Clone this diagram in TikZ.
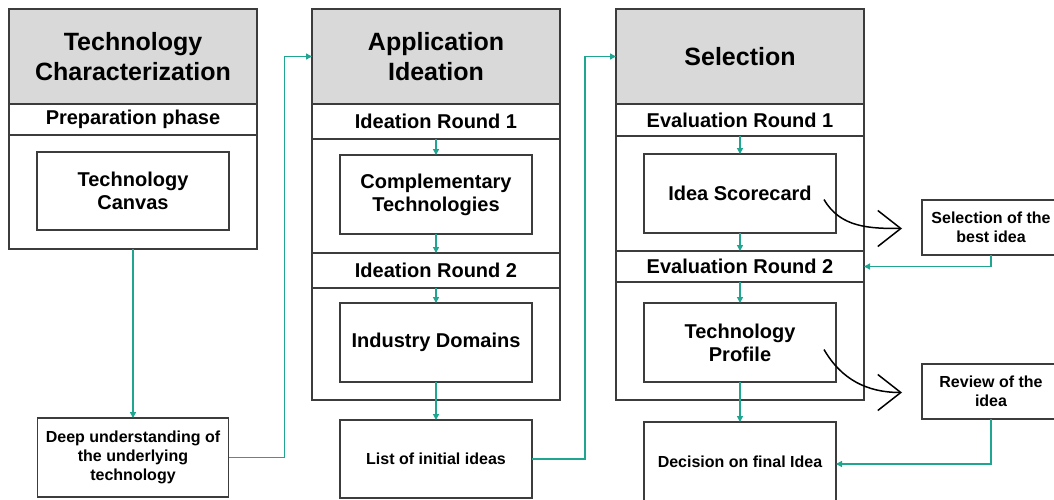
\documentclass[tikz,border=0pt]{standalone}
\usepackage{fontspec}
\setmainfont{Liberation Sans}
\usetikzlibrary{positioning}
\usetikzlibrary{calc}
\usetikzlibrary{arrows.meta}
\definecolor{boxgray}{RGB}{60,60,60}
\definecolor{headgray}{RGB}{217,217,217}
\definecolor{flowteal}{RGB}{32,165,145}

\begin{document}
\begin{tikzpicture}[x=1pt, y=1pt,
    every node/.style={align=center, font=\bfseries, outer sep=0pt, inner sep=2pt},
    column/.style={draw=boxgray, line width=1.2pt, minimum width=248pt, anchor=north west},
    header/.style={column, fill=headgray, minimum height=95pt, font=\bfseries\fontsize{25}{30}\selectfont},
    band/.style={draw=boxgray, line width=1.2pt, fill=white, minimum width=248pt, font=\bfseries\fontsize{20}{24}\selectfont},
    stepbox/.style={draw=boxgray, line width=1.2pt, fill=white, minimum width=192pt, minimum height=79pt, font=\bfseries\fontsize{20}{23}\selectfont},
    resultbox/.style={draw=boxgray, line width=1.2pt, fill=white, font=\bfseries\fontsize{16}{19}\selectfont},
    flow/.style={draw=flowteal, line width=1.3pt, -{Triangle[length=6pt, width=6pt]}},
    hint/.style={draw=black, line width=1.5pt, -{Straight Barb[length=23pt, width=36pt]}}]

        \useasboundingbox (0,0) rectangle (1054,499);

        % Left column
        \node[column, minimum height=240pt] (techCol) at (9,490) {};
        \node[header] (techHead) at (9,490) {Technology\\Characterization};
        \node[band, minimum height=31pt, below=0pt of techHead] (prepBand) {Preparation phase};
        \node[stepbox, minimum height=78pt, below=17pt of prepBand] (canvasBox) {Technology\\Canvas};
        \node[resultbox, minimum width=191pt, minimum height=79pt] (deepBox) at (133,41.5)
            {Deep understanding of\\the underlying\\technology};

        % Middle column
        \node[column, minimum height=391pt] (appCol) at (312,490) {};
        \node[header] (appHead) at (312,490) {Application\\Ideation};
        \node[band, minimum height=35pt, below=0pt of appHead] (ideaBandA) {Ideation Round 1};
        \node[stepbox, below=16pt of ideaBandA] (compBox) {Complementary\\Technologies};
        \node[band, minimum height=35pt, below=19pt of compBox] (ideaBandB) {Ideation Round 2};
        \node[stepbox, below=15pt of ideaBandB] (domainBox) {Industry Domains};
        \node[resultbox, minimum width=192pt, minimum height=78pt, below=38pt of domainBox] (listBox)
            {List of initial ideas};

        % Right column
        \node[column, minimum height=391pt] (selCol) at (616,490) {};
        \node[header] (selHead) at (616,490) {Selection};
        \node[band, minimum height=32pt, below=0pt of selHead] (evalBandA) {Evaluation Round 1};
        \node[stepbox, below=18pt of evalBandA] (scoreBox) {Idea Scorecard};
        \node[band, minimum height=31pt, below=18pt of scoreBox] (evalBandB) {Evaluation Round 2};
        \node[stepbox, below=21pt of evalBandB] (profileBox) {Technology\\Profile};
        \node[resultbox, minimum width=192pt, minimum height=84pt, below=40pt of profileBox] (decisionBox)
            {\raisebox{4pt}{Decision on final Idea}};

        % Side boxes
        \node[resultbox, minimum width=138pt, minimum height=55pt, anchor=north west] (bestBox) at (922,299)
            {Selection of the\\best idea};
        \node[resultbox, minimum width=138pt, minimum height=55pt, anchor=north west] (reviewBox) at (922,135)
            {Review of the\\idea};

        % Teal flow
        \draw[flow] (techCol.south) -- (deepBox.north);
        \draw[flow] (deepBox.east) -- ++(56,0) |- (appHead.west);
        \draw[flow] (ideaBandA.south) -- (compBox.north);
        \draw[flow] (compBox.south) -- (ideaBandB.north);
        \draw[flow] (ideaBandB.south) -- (domainBox.north);
        \draw[flow] (domainBox.south) -- (listBox.north);
        \draw[flow] (listBox.east) -- ++(53,0) |- (selHead.west);
        \draw[flow] (evalBandA.south) -- (scoreBox.north);
        \draw[flow] (scoreBox.south) -- (evalBandB.north);
        \draw[flow] (evalBandB.south) -- (profileBox.north);
        \draw[flow] (profileBox.south) -- (decisionBox.north);
        \draw[flow] (bestBox.south) |- (evalBandB.east);
        \draw[flow] (reviewBox.south) |- (decisionBox.east);

        % Black curved arrows
        \draw[hint] ($(scoreBox.east)+(-12,-6)$) to[out=-60, in=180] ($(bestBox.west)+(-20,-1)$);
        \draw[hint] ($(profileBox.east)+(-12,-7)$) to[out=-60, in=180] ($(reviewBox.west)+(-20,-1)$);

    \end{tikzpicture}
\end{document}
